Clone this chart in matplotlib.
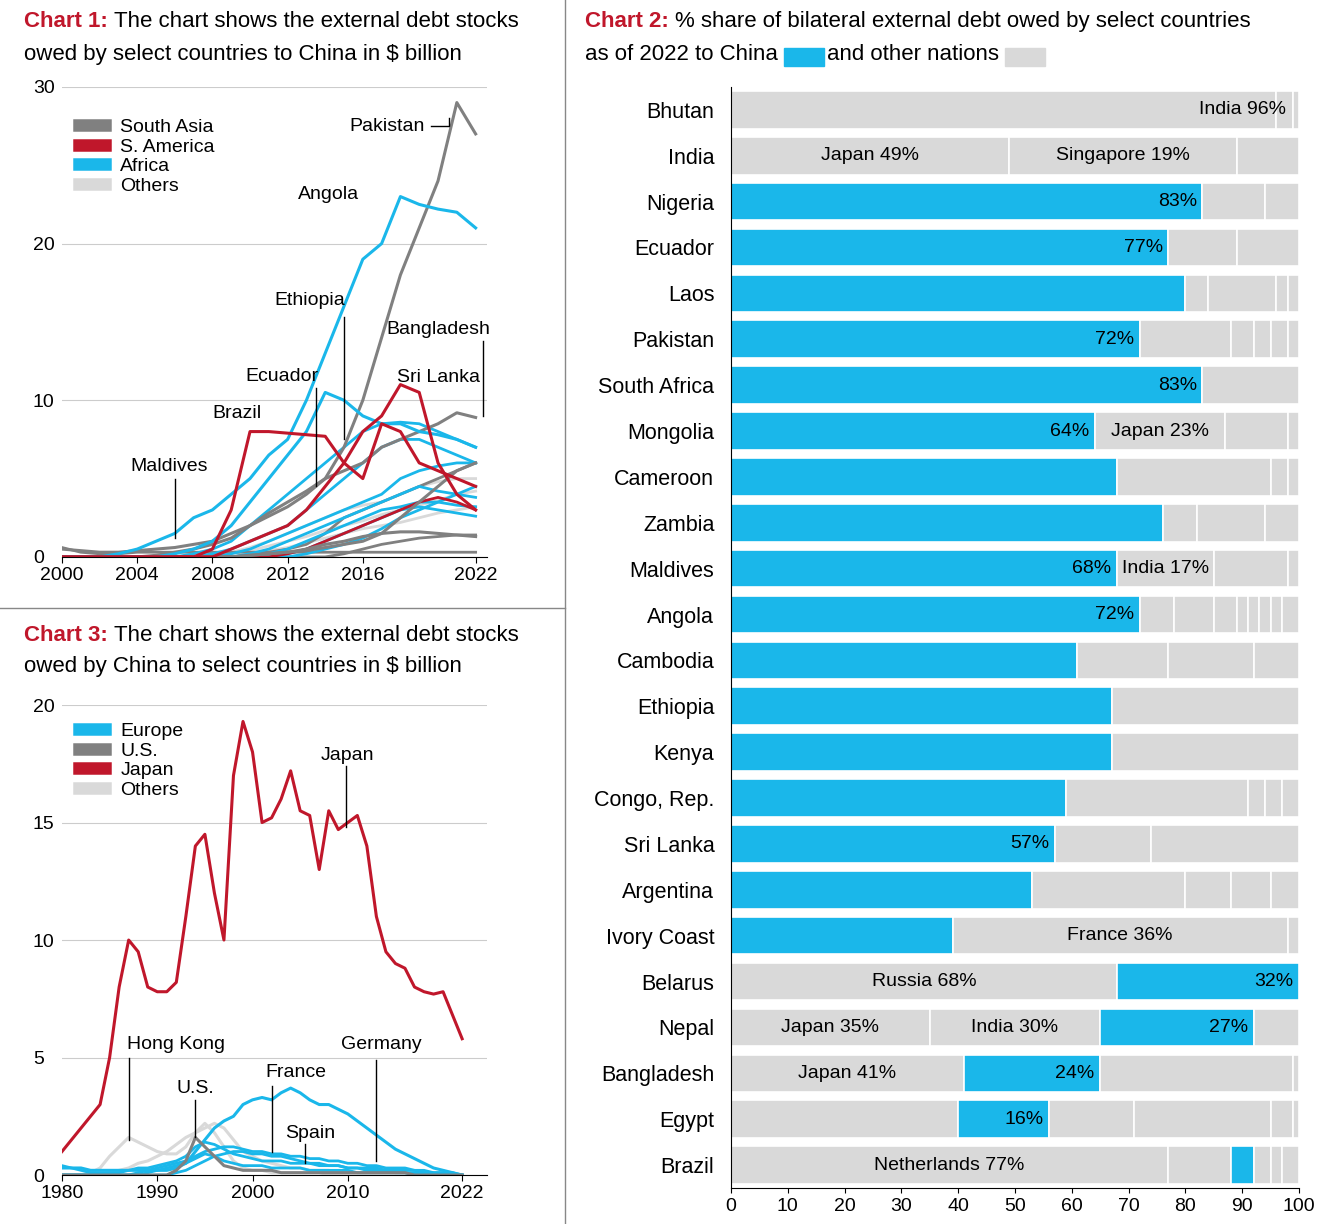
import matplotlib
matplotlib.use("Agg")
import matplotlib.pyplot as plt
import numpy as np
from matplotlib.lines import Line2D

plt.rcParams['font.family'] = ['Liberation Sans', 'DejaVu Sans']
RED = '#c0172b'; BLUE = '#1ab7ea'; GRAY = '#808080'; LGRAY = '#d9d9d9'

# ---------------- Chart 1 data ----------------
years1 = list(range(2000, 2023))
pakistan = [0.5,0.4,0.3,0.3,0.4,0.5,0.6,0.8,1.0,1.5,2.0,2.6,3.2,4.0,5.0,7.0,10,14,18,21,24,29,27]
angola = [0,0,0,0.2,0.5,1,1.5,2.5,3,4,5,6.5,7.5,10,13,16,19,20,23,22.5,22.2,22,21]
ethiopia = [0,0,0,0,0,0,0.2,0.5,1,2,3.5,5,6.5,8,10.5,10,9,8.5,8.5,8,7.8,7.5,7]
ecuador = [0,0,0,0,0,0,0,0,0.5,3,8,8,7.9,7.8,7.7,6,5,8.5,8,6,5.5,5,4.5]
brazil = [0,0,0,0,0,0,0,0,0,0.5,1,1.5,2,3,4.5,6,8,9,11,10.5,6,4,3]
srilanka = [0,0,0,0,0,0.1,0.3,0.5,0.8,1.2,2,2.8,3.5,4.2,5,5.5,6,7,7.5,8,8.5,9.2,8.9]
bangladesh = [0,0,0,0,0,0,0,0,0,0,0.1,0.2,0.3,0.4,0.6,0.8,1,1.5,2.5,3.5,4.5,5.5,6]
maldives = [0,0,0,0,0,0,0,0,0,0,0.1,0.2,0.3,0.5,0.8,1,1.3,1.5,1.6,1.6,1.5,1.4,1.3]
others_blue = [
 [0,0,0,0,0,0,0,0.2,0.5,1,2,3,4,5,6,7,8,8.5,8.6,8.5,8,7.5,7],
 [0,0,0,0,0,0,0,0,0.2,0.5,1,1.5,2,3,4,5,6,7,7.5,7.5,7,6.5,6],
 [0,0,0,0,0,0,0,0,0,0.2,0.5,1,1.5,2,2.5,3,3.5,4,5,5.5,5.8,6,6],
 [0,0,0,0,0,0,0,0,0,0,0.2,0.5,1,1.5,2,2.5,3,3.5,4,4.5,4.2,4,3.8],
 [0,0,0,0,0,0,0,0,0,0,0,0.2,0.5,1,1.5,2,2.5,3,3.2,3.5,3.5,3.3,3.2],
 [0,0,0,0,0,0,0,0,0,0,0,0,0.2,0.5,1,1.5,2,2.5,3,3.2,3,2.8,2.6],
 [0,0,0,0,0,0,0,0,0,0,0,0,0,0.2,0.5,0.8,1.2,1.8,2.5,3,3.5,4,4.5],
]
others_gray = [
 [0,0,0,0,0,0,0,0,0,0,0.1,0.3,0.5,0.8,1.5,2.5,3,3.5,4,4.5,5,5.5,6],
 [0,0,0,0,0,0,0,0,0,0,0,0,0,0,0,0.2,0.5,0.8,1,1.2,1.3,1.4,1.4],
 [0.6,0.3,0.2,0.2,0.3,0.3,0.3,0.3,0.3,0.3,0.3,0.3,0.3,0.3,0.3,0.3,0.3,0.3,0.3,0.3,0.3,0.3,0.3],
]
others_red = [
 [0,0,0,0,0,0,0,0,0,0,0,0,0.2,0.5,1,1.5,2,2.5,3,3.5,3.8,3.5,3],
]
others_light = [
 [0,0,0,0,0,0,0,0,0.1,0.3,0.6,1,1.5,2,2.5,3,3.3,3.5,4,4.5,4.8,5,5],
 [0,0,0,0,0,0,0,0,0,0.2,0.4,0.7,1,1.3,1.7,2,2.3,2.7,3,3.3,3.6,4,4.2],
 [0,0,0,0,0,0,0,0,0,0,0.2,0.4,0.6,0.9,1.2,1.5,1.8,2,2.2,2.5,2.8,3,3.2],
]

# ---------------- Chart 3 data ----------------
years3 = list(range(1980, 2023))
japan = [1,1.5,2,2.5,3,5,8,10,9.5,8,7.8,7.8,8.2,11,14,14.5,12,10,17,19.3,18,15,15.2,16,17.2,15.5,15.3,13,15.5,14.7,15,15.3,14,11,9.5,9,8.8,8,7.8,7.7,7.8,6.8,5.8]
france = [0.3,0.3,0.3,0.2,0.2,0.2,0.2,0.2,0.2,0.2,0.2,0.2,0.3,0.5,1,1.5,2,2.3,2.5,3,3.2,3.3,3.2,3.5,3.7,3.5,3.2,3,3,2.8,2.6,2.3,2,1.7,1.4,1.1,0.9,0.7,0.5,0.3,0.2,0.1,0]
germany = [0,0,0,0,0,0,0,0,0.1,0.2,0.3,0.4,0.5,0.6,0.8,1,1.1,1.2,1.2,1.1,1,1,0.9,0.9,0.8,0.8,0.7,0.7,0.6,0.6,0.5,0.5,0.4,0.4,0.3,0.3,0.3,0.2,0.2,0.1,0.1,0.1,0]
spain = [0,0,0,0,0,0,0,0,0,0,0,0,0.1,0.2,0.4,0.6,0.8,0.9,1,1,0.9,0.9,0.8,0.8,0.7,0.6,0.5,0.5,0.4,0.4,0.3,0.3,0.2,0.2,0.2,0.1,0.1,0.1,0.1,0,0,0,0]
us = [0,0,0,0,0,0,0,0,0,0,0,0,0.2,0.6,1.6,1.2,0.8,0.4,0.3,0.2,0.2,0.2,0.2,0.1,0.1,0.1,0.1,0.1,0.1,0.1,0.1,0.1,0.1,0.1,0.1,0.1,0.1,0,0,0,0,0,0]
hongkong = [0,0,0,0.1,0.3,0.8,1.2,1.6,1.4,1.2,1,0.9,0.9,1.2,1.8,2.2,1.8,1.2,0.6,0.3,0.2,0.2,0.1,0.1,0.1,0.1,0.1,0.1,0,0,0,0,0,0,0,0,0,0,0,0,0,0,0]
other_eu = [
 [0.4,0.3,0.2,0.1,0.1,0.1,0.1,0.2,0.3,0.3,0.4,0.5,0.6,0.8,1.2,1.4,1.3,1.1,0.9,0.8,0.7,0.6,0.6,0.6,0.5,0.5,0.5,0.4,0.4,0.4,0.3,0.3,0.3,0.3,0.2,0.2,0.2,0.2,0.1,0.1,0.1,0,0],
 [0,0,0,0,0,0,0,0,0,0.1,0.2,0.3,0.4,0.5,0.7,0.9,0.8,0.6,0.5,0.4,0.4,0.4,0.3,0.3,0.3,0.3,0.2,0.2,0.2,0.2,0.2,0.1,0.1,0.1,0.1,0.1,0.1,0,0,0,0,0,0],
]
others3 = [0,0,0,0,0,0.1,0.2,0.3,0.5,0.6,0.8,1,1.3,1.6,1.8,2,2.2,2,1.5,1,0.8,0.6,0.5,0.4,0.3,0.3,0.2,0.2,0.2,0.1,0.1,0.1,0.1,0.1,0.1,0,0,0,0,0,0,0,0]

# ---------------- Chart 2 data ----------------
countries = ["Bhutan","India","Nigeria","Ecuador","Laos","Pakistan","South Africa","Mongolia",
             "Cameroon","Zambia","Maldives","Angola","Cambodia","Ethiopia","Kenya","Congo, Rep.",
             "Sri Lanka","Argentina","Ivory Coast","Belarus","Nepal","Bangladesh","Egypt","Brazil"]
segments = [
 [(96,0,"India 96%"),(3,0,""),(1,0,"")],
 [(49,0,"Japan 49%"),(40,0,"Singapore 19%"),(11,0,"")],
 [(83,1,"83%"),(11,0,""),(6,0,"")],
 [(77,1,"77%"),(12,0,""),(11,0,"")],
 [(80,1,""),(4,0,""),(12,0,""),(2,0,""),(2,0,"")],
 [(72,1,"72%"),(16,0,""),(4,0,""),(3,0,""),(3,0,""),(2,0,"")],
 [(83,1,"83%"),(17,0,"")],
 [(64,1,"64%"),(23,0,"Japan 23%"),(11,0,""),(2,0,"")],
 [(68,1,""),(27,0,""),(3,0,""),(2,0,"")],
 [(76,1,""),(6,0,""),(12,0,""),(6,0,"")],
 [(68,1,"68%"),(17,0,"India 17%"),(13,0,""),(2,0,"")],
 [(72,1,"72%"),(6,0,""),(7,0,""),(4,0,""),(2,0,""),(2,0,""),(2,0,""),(2,0,""),(3,0,"")],
 [(61,1,""),(16,0,""),(15,0,""),(8,0,"")],
 [(67,1,""),(33,0,"")],
 [(67,1,""),(33,0,"")],
 [(59,1,""),(32,0,""),(3,0,""),(3,0,""),(3,0,"")],
 [(57,1,"57%"),(17,0,""),(26,0,"")],
 [(53,1,""),(27,0,""),(8,0,""),(7,0,""),(5,0,"")],
 [(39,1,""),(59,0,"France 36%"),(2,0,"")],
 [(68,0,"Russia 68%"),(32,1,"32%")],
 [(35,0,"Japan 35%"),(30,0,"India 30%"),(27,1,"27%"),(8,0,"")],
 [(41,0,"Japan 41%"),(24,1,"24%"),(34,0,""),(1,0,"")],
 [(40,0,""),(16,1,"16%"),(15,0,""),(24,0,""),(4,0,""),(1,0,"")],
 [(77,0,"Netherlands 77%"),(11,0,""),(4,1,""),(3,0,""),(2,0,""),(3,0,"")],
]

fig = plt.figure(figsize=(13.3, 12.24), dpi=100)
TS = 16
LS = 14

def rich(x, y, parts, size):
    r = fig.canvas.get_renderer()
    for txt, col, bold in parts:
        t = fig.text(x, y, txt, color=col, fontsize=size, fontweight='bold' if bold else 'normal', va='top')
        bb = t.get_window_extent(renderer=r)
        x += bb.width / fig.bbox.width

def style_left(ax):
    for s in ax.spines.values():
        s.set_visible(False)
    ax.spines['bottom'].set_visible(True)
    ax.spines['bottom'].set_color('black')
    ax.grid(axis='y', color='#cccccc', lw=0.8)
    ax.set_axisbelow(True)
    ax.tick_params(axis='y', length=0, labelsize=LS, pad=-2)
    ax.tick_params(axis='x', labelsize=LS, length=4)
    for lab in ax.get_yticklabels():
        lab.set_horizontalalignment('left')
        lab.set_x(-0.075)

# ----- Chart 1 -----
ax1 = fig.add_axes([0.0466, 0.545, 0.3195, 0.384])
for s in others_light: ax1.plot(years1, s, color=LGRAY, lw=2)
for s in others_gray: ax1.plot(years1, s, color=GRAY, lw=2)
for s in others_blue: ax1.plot(years1, s, color=BLUE, lw=2)
for s in others_red: ax1.plot(years1, s, color=RED, lw=2)
for s, c in [(pakistan,GRAY),(srilanka,GRAY),(bangladesh,GRAY),(maldives,GRAY),(angola,BLUE),(ethiopia,BLUE),(ecuador,RED),(brazil,RED)]:
    ax1.plot(years1, s, color=c, lw=2.2)
ax1.set_xlim(2000, 2022.6); ax1.set_ylim(0, 30)
ax1.set_xticks([2000,2004,2008,2012,2016,2022]); ax1.set_yticks([0,10,20,30])
style_left(ax1)
ann1 = [("Pakistan", 2015.3, 26.9, [(2019.6,27.5),(2020.6,27.5),(2020.6,28)]),
        ("Angola", 2014.2, 22.6, None),
        ("Ethiopia", 2013.2, 15.8, [(2015,15.3),(2015,7.5)]),
        ("Bangladesh", 2020.0, 14.0, [(2022.4,13.8),(2022.4,9)]),
        ("Ecuador", 2011.7, 11.0, [(2013.5,10.8),(2013.5,4.5)]),
        ("Sri Lanka", 2020.0, 10.9, None),
        ("Brazil", 2009.3, 8.6, None),
        ("Maldives", 2005.7, 5.2, [(2006,5.0),(2006,1.2)])]
for name, x, y, pts in ann1:
    ax1.text(x, y, name, fontsize=LS, va='bottom', ha='center' if name!="Pakistan" else 'left')
    if pts:
        xs, ys = zip(*pts); ax1.plot(xs, ys, color='black', lw=1)
h = [Line2D([],[],color=c,lw=9) for c in [GRAY,RED,BLUE,LGRAY]]
ax1.legend(h, ["South Asia","S. America","Africa","Others"], loc='upper left', frameon=False,
           fontsize=LS, handlelength=1.3, labelspacing=0.1, bbox_to_anchor=(0.0,0.97))
rich(0.018, 0.991, [("Chart 1: ", RED, True), ("The chart shows the external debt stocks", 'black', False)], TS)
fig.text(0.018, 0.964, "owed by select countries to China in $ billion", fontsize=TS, va='top')

# ----- Chart 3 -----
ax3 = fig.add_axes([0.0466, 0.04, 0.3195, 0.384])
ax3.plot(years3, others3, color=LGRAY, lw=2.2)
ax3.plot(years3, hongkong, color=LGRAY, lw=2.2)
for s in other_eu: ax3.plot(years3, s, color=BLUE, lw=2)
ax3.plot(years3, spain, color=BLUE, lw=2)
ax3.plot(years3, germany, color=BLUE, lw=2)
ax3.plot(years3, france, color=BLUE, lw=2.2)
ax3.plot(years3, us, color=GRAY, lw=2.2)
ax3.plot(years3, japan, color=RED, lw=2.2)
ax3.set_xlim(1980, 2024.6); ax3.set_ylim(0, 20)
ax3.set_xticks([1980,1990,2000,2010,2022]); ax3.set_yticks([0,5,10,15,20])
style_left(ax3)
ann3 = [("Japan", 2010, 17.5, [(2009.8,17.4),(2009.8,14.8)]),
        ("Hong Kong", 1992, 5.2, [(1987,5),(1987,1.5)]),
        ("Germany", 2013.5, 5.2, [(2013,4.9),(2013,0.6)]),
        ("U.S.", 1994, 3.3, [(1994,3.2),(1994,1.6)]),
        ("France", 2004.5, 4.0, [(2002,3.8),(2002,1)]),
        ("Spain", 2006, 1.4, [(2005.5,1.3),(2005.5,0.5)])]
for name, x, y, pts in ann3:
    ax3.text(x, y, name, fontsize=LS, va='bottom', ha='center')
    xs, ys = zip(*pts); ax3.plot(xs, ys, color='black', lw=1)
h = [Line2D([],[],color=c,lw=9) for c in [BLUE,GRAY,RED,LGRAY]]
ax3.legend(h, ["Europe","U.S.","Japan","Others"], loc='upper left', frameon=False,
           fontsize=LS, handlelength=1.3, labelspacing=0.1, bbox_to_anchor=(0.0,1.0))
rich(0.018, 0.489, [("Chart 3: ", RED, True), ("The chart shows the external debt stocks", 'black', False)], TS)
fig.text(0.018, 0.464, "owed by China to select countries in $ billion", fontsize=TS, va='top')

# ----- Chart 2 -----
ax2 = fig.add_axes([0.5496, 0.0294, 0.4271, 0.8996])
n = len(countries)
for i, segs in enumerate(segments):
    left = 0
    for share, china, lab in segs:
        col = BLUE if china else LGRAY
        ax2.barh(i, share, left=left, height=0.82, color=col, edgecolor='white', linewidth=1.2)
        if lab:
            if china:
                ax2.text(left + share - 1, i, lab, ha='right', va='center', fontsize=LS)
            else:
                ax2.text(left + share/2 if share < 90 else left + share - 6, i, lab, ha='center', va='center', fontsize=LS)
        left += share
ax2.set_ylim(n - 0.5, -0.5); ax2.set_xlim(0, 100)
ax2.set_yticks(range(n)); ax2.set_yticklabels(countries, fontsize=15.5)
ax2.set_xticks(range(0, 101, 10))
ax2.tick_params(axis='y', length=0, pad=12)
ax2.tick_params(axis='x', labelsize=LS)
for k in ['top','right']: ax2.spines[k].set_visible(False)
ax2.spines['left'].set_color('black')
rich(0.44, 0.991, [("Chart 2: ", RED, True), ("% share of bilateral external debt owed by select countries", 'black', False)], TS)
r = fig.canvas.get_renderer()
x0 = 0.44
t = fig.text(x0, 0.964, "as of 2022 to China ", fontsize=TS, va='top')
x = x0 + t.get_window_extent(r).width / fig.bbox.width
fig.patches.append(plt.Rectangle((x, 0.946), 0.03, 0.015, transform=fig.transFigure, color=BLUE))
x += 0.032
t = fig.text(x, 0.964, "and other nations ", fontsize=TS, va='top')
x += t.get_window_extent(r).width / fig.bbox.width
fig.patches.append(plt.Rectangle((x, 0.946), 0.03, 0.015, transform=fig.transFigure, color=LGRAY))

fig.add_artist(Line2D([0.425, 0.425], [0, 1], color='#888888', lw=1, transform=fig.transFigure))
fig.add_artist(Line2D([0, 0.425], [0.503, 0.503], color='#888888', lw=1, transform=fig.transFigure))

fig.savefig("out.png", dpi=100, facecolor='white')
